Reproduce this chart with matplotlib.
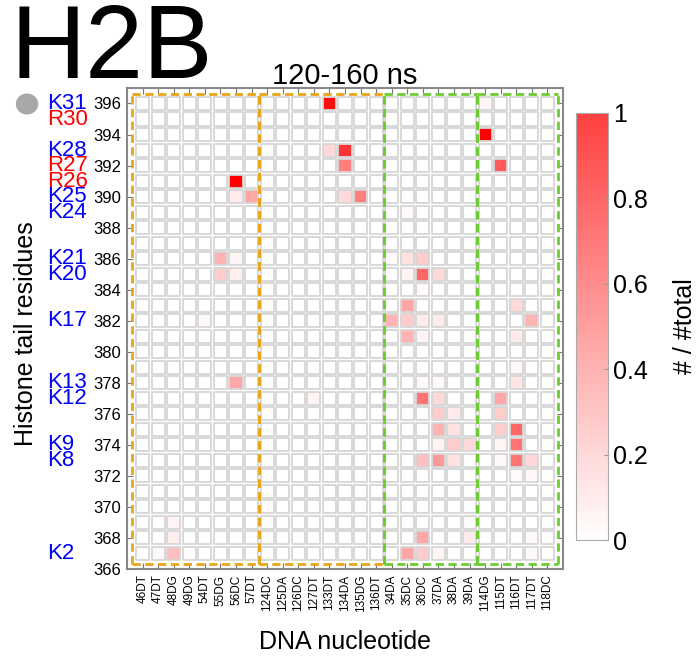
import matplotlib
matplotlib.use("Agg")
import matplotlib.pyplot as plt
from matplotlib.colors import LinearSegmentedColormap, Normalize
from matplotlib.patches import Rectangle, Circle
from matplotlib.collections import PatchCollection
import numpy as np

plt.rcParams["font.family"] = ["Liberation Sans", "DejaVu Sans"]

# DNA nucleotides on x, histone residues (index) on y
nucleotides = [
    "46DT", "47DT", "48DG", "49DG", "54DT", "55DG", "56DC", "57DT",
    "124DC", "125DA", "126DC", "127DT", "133DT", "134DA", "135DG", "136DT",
    "34DA", "35DC", "36DC", "37DA", "38DA", "39DA",
    "114DG", "115DT", "116DT", "117DT", "118DC",
]
residue_rows = list(range(367, 397))
ytick_values = list(range(366, 397, 2))

# contact fractions (# / #total), only non-empty cells listed
cell_nuc = [
    "56DC", "56DC", "57DT", "133DT", "133DT", "134DA", "134DA", "134DA",
    "135DG", "114DG", "114DG", "115DT", "35DC", "55DG", "56DC", "55DG",
    "56DC", "54DT", "56DC", "127DT", "34DA", "35DC", "36DC", "35DC",
    "36DC", "37DA", "36DC", "35DC", "116DT", "34DA", "35DC", "36DC",
    "37DA", "117DT", "35DC", "36DC", "116DT", "116DT", "36DC", "37DA",
    "116DT", "36DC", "37DA", "115DT", "37DA", "38DA", "115DT", "37DA",
    "38DA", "115DT", "116DT", "37DA", "38DA", "39DA", "115DT", "116DT",
    "36DC", "37DA", "38DA", "115DT", "116DT", "117DT", "116DT", "117DT",
    "39DA", "36DC", "39DA", "117DT", "35DC", "36DC", "37DA", "117DT",
    "48DG", "48DG", "48DG", "47DT", "49DG",
]
cell_res = [
    391, 390, 390, 396, 393, 393, 392, 390,
    390, 396, 394, 392, 389, 386, 386, 385,
    385, 382, 378, 377, 386, 386, 386, 385,
    385, 385, 384, 383, 383, 382, 382, 382,
    382, 382, 381, 381, 381, 379, 378, 378,
    378, 377, 377, 377, 376, 376, 376, 375,
    375, 375, 375, 374, 374, 374, 374, 374,
    373, 373, 373, 373, 373, 373, 372, 372,
    369, 368, 368, 368, 367, 367, 367, 367,
    369, 368, 367, 367, 367,
]
cell_val = [
    1.00, 0.08, 0.35, 0.95, 0.15, 0.80, 0.50, 0.15,
    0.50, 0.04, 1.00, 0.65, 0.03, 0.30, 0.04, 0.20,
    0.07, 0.03, 0.35, 0.04, 0.02, 0.12, 0.20, 0.05,
    0.60, 0.15, 0.02, 0.35, 0.15, 0.30, 0.20, 0.08,
    0.08, 0.30, 0.30, 0.05, 0.08, 0.03, 0.02, 0.03,
    0.10, 0.55, 0.15, 0.35, 0.20, 0.08, 0.20, 0.30,
    0.12, 0.20, 0.60, 0.05, 0.20, 0.15, 0.04, 0.55,
    0.25, 0.40, 0.12, 0.03, 0.55, 0.15, 0.02, 0.03,
    0.02, 0.35, 0.08, 0.03, 0.35, 0.20, 0.04, 0.03,
    0.05, 0.07, 0.25, 0.03, 0.01,
]

# residue names drawn left of the axis (name, row, colour)
tail_names = ["K31", "R30", "K28", "R27", "R26", "K25", "K24", "K21", "K20",
              "K17", "K13", "K12", "K9", "K8", "K2"]
tail_rows = [396, 395, 393, 392, 391, 390, 389, 386, 385,
             382, 378, 377, 374, 373, 367]
tail_colors = ["blue", "red", "blue", "red", "red", "blue", "blue", "blue", "blue",
               "blue", "blue", "blue", "blue", "blue", "blue"]

# dashed boxes around nucleotide groups: (first, last, colour)
groups = [("46DT", "57DT", "#e8a61a"), ("124DC", "136DT", "#e8a61a"),
          ("34DA", "39DA", "#6ccc30"), ("114DG", "118DC", "#6ccc30")]

# build grid
grid = np.zeros((len(residue_rows), len(nucleotides)))
for n, r, v in zip(cell_nuc, cell_res, cell_val):
    grid[residue_rows.index(r), nucleotides.index(n)] = v

cmap = LinearSegmentedColormap.from_list("wr", ["#ffffff", "#ff0000"])
norm = Normalize(0, 1)

fig = plt.figure(figsize=(6.99, 6.58), dpi=100)
ax = fig.add_axes([0.1817, 0.1353, 0.6237, 0.731])

size = 0.84
patches, colors = [], []
for i, r in enumerate(residue_rows):
    for j in range(len(nucleotides)):
        patches.append(Rectangle((j - size / 2, r - size / 2), size, size))
        colors.append(cmap(norm(grid[i, j])))
pc = PatchCollection(patches, facecolors=colors, edgecolors="#d6d6d6", linewidths=1.3)
ax.add_collection(pc)

# group boxes: every edge drawn in the same direction so shared edges keep one dash phase
y_lo, y_hi = 366.32, 396.6
dash = (0, (3, 1.6))
for first, last, col in groups:
    x0 = nucleotides.index(first) - 0.5
    x1 = nucleotides.index(last) + 0.5
    if x0 < 0:
        x0 = -0.68
    if x1 > len(nucleotides) - 1:
        x1 = x1 + 0.2
    kw = dict(color=col, linestyle=dash, linewidth=2.0, zorder=3)
    ax.plot([x0, x1], [y_lo, y_lo], **kw)
    ax.plot([x0, x1], [y_hi, y_hi], **kw)
    ax.plot([x0, x0], [y_lo, y_hi], **kw)
    ax.plot([x1, x1], [y_lo, y_hi], **kw)

ax.set_xlim(-1, len(nucleotides))
ax.set_ylim(366, 397)
ax.set_xticks(range(len(nucleotides)))
ax.set_xticklabels(nucleotides, rotation=90, fontsize=8.5)
ax.set_yticks(ytick_values)
ax.set_yticklabels([str(v) for v in ytick_values], fontsize=12)
ax.tick_params(direction="in", length=4, color="#777777", top=True, right=True,
               labeltop=False, labelright=False, pad=4)
for sp in ax.spines.values():
    sp.set_color("#888888")
    sp.set_linewidth(1.5)

ax.set_title("120-160 ns", fontsize=21, pad=3)
ax.set_xlabel("DNA nucleotide", fontsize=18, labelpad=13)
ax.set_ylabel("Histone tail residues", fontsize=18)
ax.yaxis.set_label_coords(-0.205, 0.49)

# residue names next to the y axis
for name, row, col in zip(tail_names, tail_rows, tail_colors):
    ax.annotate(name, xy=(0, row), xycoords=("axes fraction", "data"),
                xytext=(-80, 0), textcoords="offset pixels",
                fontsize=16, color=col, ha="left", va="center")

fig.text(0.015, 0.995, "H2B", fontsize=75, ha="left", va="top")
fig.add_artist(Circle((27 / 699, 1 - 104 / 658), 0.016, transform=fig.transFigure,
                      facecolor="#a8a8a8", edgecolor="none"))

cax = fig.add_axes([0.824, 0.1793, 0.0458, 0.649])
cb = fig.colorbar(plt.cm.ScalarMappable(norm=norm, cmap=cmap), cax=cax, alpha=0.75)
cb.set_ticks([0, 0.2, 0.4, 0.6, 0.8, 1])
cb.set_ticklabels(["0", "0.2", "0.4", "0.6", "0.8", "1"])
cb.ax.tick_params(labelsize=18, length=3, direction="in", color="#999999")
cb.outline.set_edgecolor("#aaaaaa")
cb.set_label("# / #total", fontsize=18, labelpad=18)

fig.savefig("out.png", dpi=100)
